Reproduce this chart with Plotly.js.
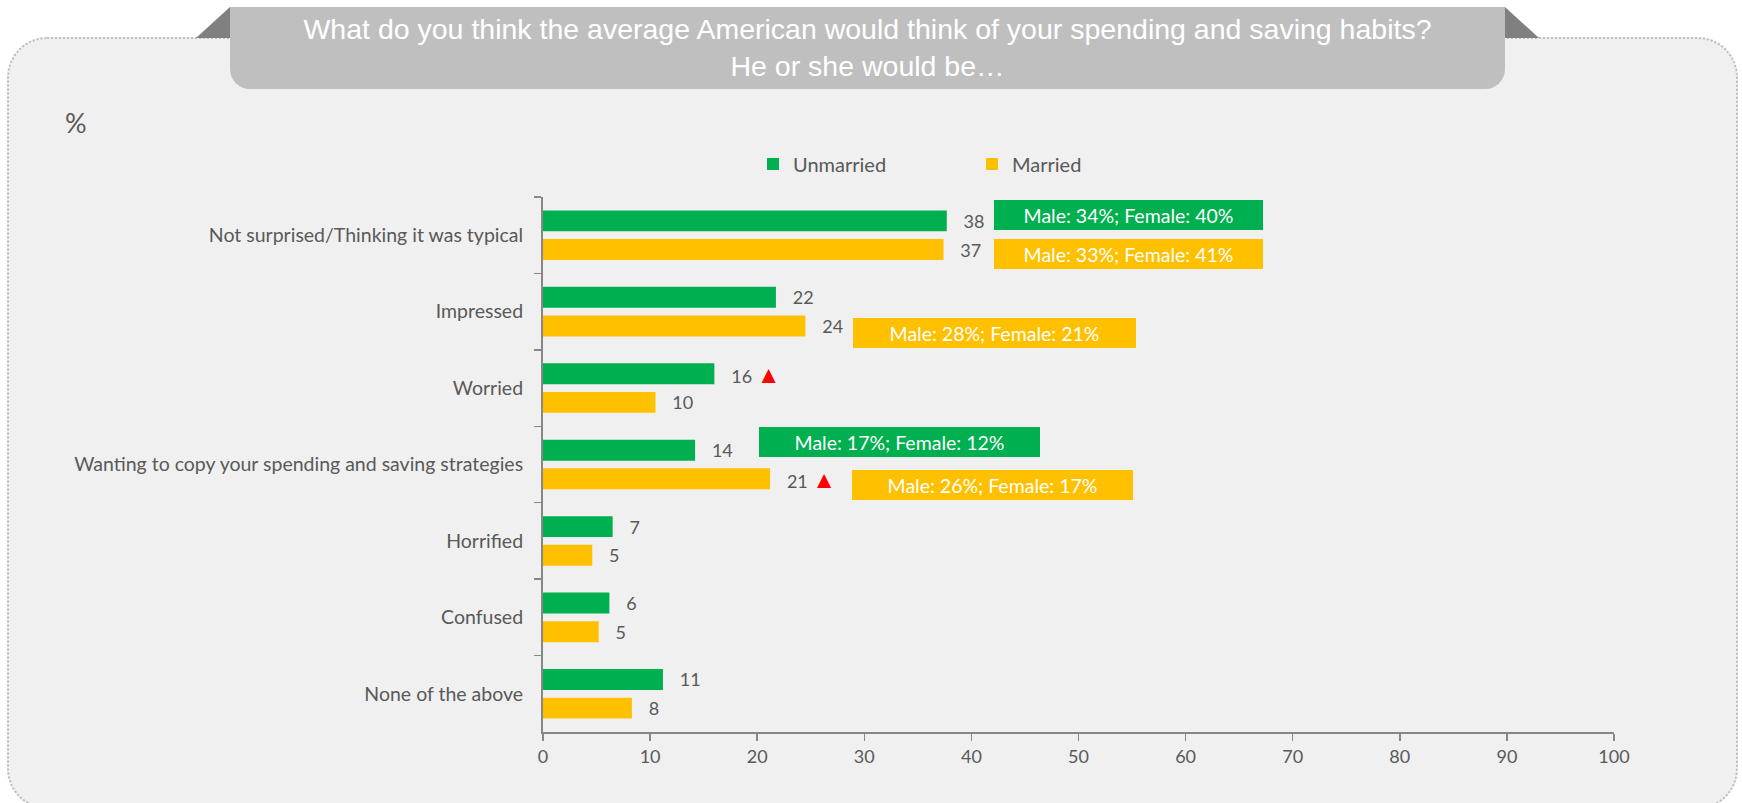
<!DOCTYPE html>
<html>
<head>
<meta charset="utf-8">
<script src="https://cdn.plot.ly/plotly-3.0.1.min.js"></script>
<style>
  html, body { margin: 0; padding: 0; background: #ffffff; }
  #wrap { position: relative; width: 1742px; height: 803px; overflow: hidden; background: #ffffff; }
  #frame { position: absolute; left: 7px; top: 37px; width: 1731px; height: 772px;
           border: 2px dotted #bdbdbd; border-radius: 40px; background: #f0f0f0; box-sizing: border-box; }
  #banner { position: absolute; left: 230px; top: 7px; width: 1275px; height: 82px;
            background: #bfbfbf; border-radius: 0 0 20px 20px; }
  #flapL { position: absolute; left: 196px; top: 7px; width: 0; height: 0;
           border-bottom: 31px solid #808080; border-left: 34px solid transparent; }
  #flapR { position: absolute; left: 1505px; top: 7px; width: 0; height: 0;
           border-bottom: 31px solid #808080; border-right: 34px solid transparent; }
  #chart { position: absolute; left: 0; top: 0; width: 1742px; height: 803px; }
</style>
</head>
<body>
<div id="wrap">
  <div id="frame"></div>
  <div id="flapL"></div>
  <div id="flapR"></div>
  <div id="banner"></div>
  <div id="chart"></div>
</div>
<script>
// ---- data ----
const categories = [
  "Not surprised/Thinking it was typical",
  "Impressed",
  "Worried",
  "Wanting to copy your spending and saving strategies",
  "Horrified",
  "Confused",
  "None of the above"
];
const seriesNames = ["Unmarried", "Married"];
const unmarriedValues = [37.7, 21.75, 16.0, 14.2, 6.5, 6.2, 11.2];
const marriedValues   = [37.4, 24.5, 10.5, 21.2, 4.6, 5.2, 8.3];
const unmarriedLabels = ["38", "22", "16", "14", "7", "6", "11"];
const marriedLabels   = ["37", "24", "10", "21", "5", "5", "8"];
const unmarriedSignificant = [false, false, true, false, false, false, false];
const marriedSignificant   = [false, false, false, true, false, false, false];
const genderNotes = [
  {category: 0, series: 0, text: "Male: 34%; Female: 40%"},
  {category: 0, series: 1, text: "Male: 33%; Female: 41%"},
  {category: 1, series: 1, text: "Male: 28%; Female: 21%"},
  {category: 3, series: 0, text: "Male: 17%; Female: 12%"},
  {category: 3, series: 1, text: "Male: 26%; Female: 17%"}
];
const xTicks = [0, 10, 20, 30, 40, 50, 60, 70, 80, 90, 100];
const chartTitle = "What do you think the average American would think of your spending and saving habits?<br>He or she would be…";
const unitLabel = "%";

// ---- styles ----
const GREEN = "#00B050", YELLOW = "#FFC000", TXT = "#595959", AX = "#878787";
const FONT = "Lato, 'Open Sans', sans-serif";
const colors = [GREEN, YELLOW];

function labelText(lbls, sig) {
  return lbls.map((l, i) => "\u00a0\u00a0\u00a0" + l +
    (sig[i] ? "\u00a0<span style=\"color:#FF0000;font-size:24px\">▲</span>" : ""));
}

const traces = [
  {type: "bar", orientation: "h", name: seriesNames[0], y: categories, x: unmarriedValues,
   marker: {color: GREEN}, text: labelText(unmarriedLabels, unmarriedSignificant),
   textposition: "outside", textfont: {family: FONT, size: 18, color: TXT},
   constraintext: "none", cliponaxis: false, hoverinfo: "skip"},
  {type: "bar", orientation: "h", name: seriesNames[1], y: categories, x: marriedValues,
   marker: {color: YELLOW}, text: labelText(marriedLabels, marriedSignificant),
   textposition: "outside", textfont: {family: FONT, size: 18, color: TXT},
   constraintext: "none", cliponaxis: false, hoverinfo: "skip"}
];

// note box layout (positions/sizes)
const noteBoxes = [
  {x: 54.65, dy: -0.261, w: 269},
  {x: 54.65, dy: 0.246, w: 269},
  {x: 42.2, dy: 0.273, w: 283},
  {x: 33.25, dy: -0.295, w: 281},
  {x: 42.0, dy: 0.266, w: 281}
];

const annotations = genderNotes.map((n, i) => ({
  xref: "x", yref: "y", x: noteBoxes[i].x, y: n.category + noteBoxes[i].dy,
  text: n.text, showarrow: false, bgcolor: colors[n.series],
  width: noteBoxes[i].w, height: 30, borderpad: 0, borderwidth: 0,
  font: {family: FONT, size: 19.5, color: "#ffffff"}, xanchor: "center", yanchor: "middle"
}));
annotations.push({
  xref: "paper", yref: "paper", x: (63 - 543) / 1071, y: (732 - 122) / 535,
  xanchor: "left", yanchor: "middle", text: unitLabel, showarrow: false,
  font: {family: FONT, size: 27, color: TXT}
});

const layout = {
  width: 1742, height: 803,
  margin: {l: 543, r: 128, t: 197, b: 71, pad: 0},
  paper_bgcolor: "rgba(0,0,0,0)", plot_bgcolor: "rgba(0,0,0,0)",
  font: {family: FONT, size: 18, color: TXT},
  title: {text: chartTitle, x: 867.5 / 1742, xanchor: "center", xref: "container",
          y: 1 - 39 / 803, yanchor: "top", yref: "container",
          font: {family: "'Liberation Sans', Arial, sans-serif", size: 28.5, color: "#ffffff"}},
  barmode: "group", bargap: 0.25, bargroupgap: 0.27,
  showlegend: true,
  legend: {orientation: "h", x: (753 - 543) / 1071, xanchor: "left", y: (732 - 164) / 535, yanchor: "middle",
           font: {family: FONT, size: 20, color: TXT}, entrywidth: 174, entrywidthmode: "pixels",
           bgcolor: "rgba(0,0,0,0)", traceorder: "normal"},
  xaxis: {range: [0, 100], tickvals: xTicks, ticktext: xTicks.map(String), showgrid: false, zeroline: false,
          showline: true, linecolor: AX, linewidth: 2, ticks: "outside", ticklen: 7, tickwidth: 1.5, tickcolor: AX,
          tickfont: {family: FONT, size: 18, color: TXT}, fixedrange: true},
  yaxis: {type: "category", range: [6.5, -0.5], showgrid: false, zeroline: false, showline: true,
          linecolor: AX, linewidth: 2, ticks: "outside", ticklen: 7, tickwidth: 1.5, tickcolor: AX,
          tickson: "boundaries", tickfont: {family: FONT, size: 19.5, color: TXT}, ticklabelstandoff: 14,
          fixedrange: true},
  annotations: annotations
};

Plotly.newPlot("chart", traces, layout, {displayModeBar: false, staticPlot: true});
</script>
</body>
</html>
